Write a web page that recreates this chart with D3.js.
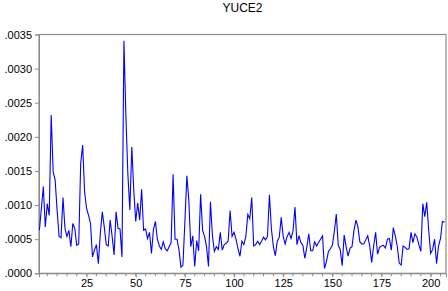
<html>
  <head>
    <meta charset="utf-8">
    <title>YUCE2</title>
    <style>
      body{margin:0;background:#fff;}
      text{font-family:Arial,"Liberation Sans",sans-serif;}
    </style>
  </head>
<body>
  <script src="https://cdn.jsdelivr.net/npm/d3@7/dist/d3.min.js"></script>
  <script>
    // YUCE2 series, obs 1..207
    var yuce2 = [
      0.00063,0.00095,0.00127,0.00068,0.00102,0.00085,0.00232,0.00149,0.00137,0.00093,
      0.00054,0.00052,0.00111,0.00066,0.00054,0.00063,0.00039,0.00073,0.00066,0.00041,
      0.00043,0.00161,0.00188,0.00119,0.00095,0.00085,0.00073,0.00024,0.00034,0.00042,
      0.00014,0.00059,0.00090,0.00068,0.00042,0.00040,0.00078,0.00054,0.00027,0.00090,
      0.00066,0.00065,0.00024,0.00341,0.00230,0.00145,0.00093,0.00185,0.00122,0.00076,
      0.00103,0.00078,0.00123,0.00063,0.00065,0.00051,0.00060,0.00029,0.00064,0.00076,
      0.00050,0.00040,0.00035,0.00046,0.00036,0.00033,0.00039,0.00045,0.00145,0.00050,
      0.00050,0.00034,0.00009,0.00012,0.00076,0.00143,0.00107,0.00039,0.00055,0.00010,
      0.00048,0.00033,0.00116,0.00063,0.00054,0.00039,0.00010,0.00105,0.00055,0.00032,
      0.00039,0.00035,0.00060,0.00034,0.00042,0.00044,0.00047,0.00092,0.00054,0.00060,
      0.00050,0.00036,0.00025,0.00047,0.00042,0.00054,0.00086,0.00080,0.00111,0.00040,
      0.00042,0.00047,0.00042,0.00047,0.00053,0.00049,0.00054,0.00115,0.00065,0.00039,
      0.00026,0.00047,0.00053,0.00082,0.00054,0.00043,0.00054,0.00060,0.00051,0.00062,
      0.00097,0.00042,0.00055,0.00045,0.00041,0.00022,0.00038,0.00058,0.00033,0.00033,
      0.00046,0.00040,0.00045,0.00050,0.00055,0.00007,0.00017,0.00032,0.00036,0.00041,
      0.00061,0.00087,0.00041,0.00035,0.00011,0.00056,0.00039,0.00025,0.00037,0.00039,
      0.00063,0.00078,0.00068,0.00046,0.00043,0.00043,0.00049,0.00055,0.00040,0.00016,
      0.00040,0.00060,0.00028,0.00038,0.00040,0.00041,0.00037,0.00050,0.00051,0.00034,
      0.00067,0.00055,0.00040,0.00015,0.00012,0.00040,0.00038,0.00035,0.00036,0.00060,
      0.00045,0.00058,0.00053,0.00042,0.00032,0.00102,0.00083,0.00104,0.00063,0.00029,
      0.00035,0.00050,0.00014,0.00040,0.00051,0.00076,0.00075
    ];
    var xTicks = [25,50,75,100,125,150,175,200];
    var xMinor = d3.range(5,210,5);
    var yTicks = [0,0.0005,0.001,0.0015,0.002,0.0025,0.003,0.0035];
    var title = "YUCE2";

    var width = 448, height = 291;
    var pLeft = 39, pRight = 446, pTop = 34.5, pBottom = 273.3;

    var svg = d3.select("body")
                .append("svg")
                .attr("width", width)
                .attr("height", height);

    var x = d3.scaleLinear().domain([0.8, 207.8]).range([pLeft, pRight]);
    var y = d3.scaleLinear().domain([0, 0.0035]).range([pBottom, pTop]);

    // title
    svg.append("text")
       .attr("x", (pLeft+pRight)/2)
       .attr("y", 12)
       .attr("text-anchor", "middle")
       .attr("font-size", 12)
       .attr("fill", "#000")
       .text(title);

    // frame
    svg.append("rect")
       .attr("x", pLeft)
       .attr("y", pTop)
       .attr("width", pRight-pLeft)
       .attr("height", pBottom-pTop)
       .attr("fill", "none")
       .attr("stroke", "#8c8c8c")
       .attr("stroke-width", 1.2);

    // y axis
    var yAxis = d3.axisLeft(y)
                  .tickValues(yTicks)
                  .tickSize(4)
                  .tickPadding(3)
                  .tickFormat(function(d){ return d3.format(".4f")(d).replace(/^0/, ""); });
    var gy = svg.append("g").attr("transform", "translate("+pLeft+",0)").call(yAxis);
    gy.select(".domain").attr("stroke", "#8c8c8c");
    gy.selectAll(".tick line").attr("stroke", "#8c8c8c");
    gy.selectAll("text").attr("font-size", 11).attr("fill", "#000").attr("font-family", "Arial,'Liberation Sans',sans-serif");

    // x axis: minor ticks every 5, labels every 25
    var gxm = svg.append("g").attr("transform", "translate(0,"+pBottom+")");
    gxm.selectAll("line")
       .data(xMinor)
       .enter()
       .append("line")
       .attr("x1", function(d){ return x(d); })
       .attr("x2", function(d){ return x(d); })
       .attr("y1", 0)
       .attr("y2", 3)
       .attr("stroke", "#8c8c8c");
    var xAxis = d3.axisBottom(x)
                  .tickValues(xTicks)
                  .tickSize(4)
                  .tickPadding(2)
                  .tickFormat(d3.format("d"));
    var gx = svg.append("g").attr("transform", "translate(0,"+pBottom+")").call(xAxis);
    gx.select(".domain").attr("stroke", "#8c8c8c");
    gx.selectAll(".tick line").attr("stroke", "#8c8c8c");
    gx.selectAll("text").attr("font-size", 11).attr("fill", "#000").attr("font-family", "Arial,'Liberation Sans',sans-serif");

    // series line
    var line = d3.line()
                 .x(function(d,i){ return x(i+1); })
                 .y(function(d){ return y(d); });
    svg.append("path")
       .datum(yuce2)
       .attr("d", line)
       .attr("fill", "none")
       .attr("stroke", "#0000ff")
       .attr("stroke-width", 1.1);
  </script>
</body>
</html>
